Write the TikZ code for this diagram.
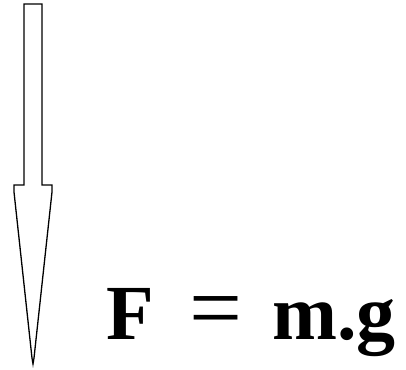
\documentclass[tikz,border=0pt]{standalone}
\usepackage{fontspec}
\setmainfont{Liberation Serif}

\begin{document}
\begin{tikzpicture}
[x=1pt,y=-1pt,line join=miter,
% Styles
force arrow/.style={draw=black,line width=1.3pt,fill=white},
formula text/.style={anchor=base west,inner sep=0pt,font=\fontsize{78}{90}\selectfont\bfseries},
equals text/.style={anchor=base west,inner sep=0pt,font=\fontsize{94}{100}\selectfont}]
% Local definitions
\def\shaftleft{24}
\def\shaftright{42}
\def\headtop{185}
\def\baseline{339}
% The graphic
\useasboundingbox (0,0) rectangle (406,369);
\draw[force arrow] (\shaftleft,4) -- (\shaftright,4) -- (\shaftright,\headtop)
  -- (52,\headtop) -- (52,192) -- (34,358) -- (33,364) -- (32,358)
  -- (14,192) -- (14,\headtop) -- (\shaftleft,\headtop) -- cycle;
\node[formula text] (force) at (106,\baseline) {F};
\node[equals text] (equals) at (189,\baseline) {=};
\node[formula text] (mass) at (272,\baseline) {m.g};
\end{tikzpicture}
\end{document}
